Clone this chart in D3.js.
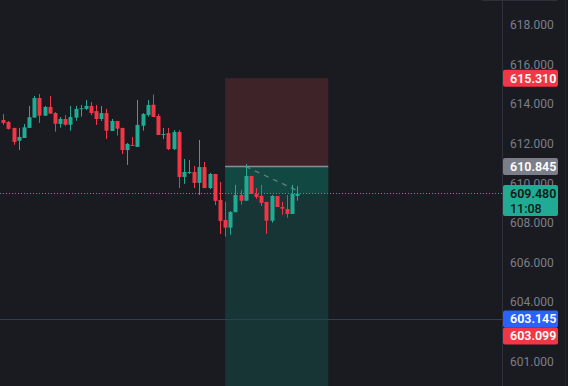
<!DOCTYPE html>
<html><head><meta charset="utf-8">
<script src="https://cdn.jsdelivr.net/npm/d3@7"></script>
<style>html,body{margin:0;padding:0;background:#1a1b20;}svg{display:block;}</style>
</head><body>
<svg id="c" width="568" height="386"></svg>
<script>
// ---- data ----
const bars = d3.range(58);
const open  = [613.20,613.10,612.80,612.15,612.29,612.80,613.32,614.31,613.42,613.86,613.55,613.00,613.25,612.96,613.32,613.76,613.76,613.91,613.65,613.25,613.55,612.64,613.15,612.80,611.68,611.94,611.84,612.91,613.45,613.97,613.40,612.44,612.54,611.73,612.59,610.32,610.52,610.57,610.02,610.82,609.76,610.47,609.16,608.15,607.76,608.54,609.41,609.12,610.37,609.46,609.36,609.06,608.11,609.36,608.80,608.70,608.45,609.36];
const high  = [613.50,613.15,612.80,612.80,613.00,613.91,614.41,614.51,613.91,614.41,613.60,613.35,613.44,613.91,613.91,613.96,614.21,614.11,613.96,613.91,613.76,613.25,613.15,612.80,612.04,612.34,614.21,613.55,614.21,614.48,613.50,612.80,612.80,612.69,612.69,611.23,611.18,610.88,612.19,611.08,610.52,610.47,610.07,609.06,608.60,609.92,609.66,610.98,610.37,609.76,609.92,609.06,609.41,609.36,609.06,609.41,609.92,609.86];
const low   = [612.95,612.72,611.94,611.68,612.29,612.80,613.32,613.05,613.40,613.52,612.61,612.81,612.91,612.66,613.16,613.37,613.70,613.44,612.95,613.15,612.24,612.64,612.41,611.48,610.93,611.90,611.84,612.66,613.37,613.35,612.44,612.24,611.68,611.68,609.76,609.97,610.47,609.76,609.41,609.76,609.71,608.90,607.44,607.30,607.40,608.54,608.92,609.12,609.46,609.21,608.85,607.45,608.01,608.80,608.41,608.26,608.45,609.12];
const close = [613.05,612.75,612.09,612.34,612.83,613.34,614.31,613.42,613.86,613.52,613.01,613.25,612.96,613.35,613.76,613.79,613.91,613.55,613.25,613.55,612.66,613.15,612.76,611.68,611.99,611.90,612.95,613.50,613.96,613.35,612.44,612.49,611.73,612.59,610.32,610.57,610.57,610.02,610.82,609.76,610.47,609.11,608.10,607.76,608.55,609.41,609.12,610.37,609.46,609.31,609.01,608.11,609.36,608.80,608.72,608.45,609.46,609.48];
const tickValues = [618,616,614,612,610,608,606,604,601];
const stopPrice = 615.310, entryPrice = 610.845, lastPrice = 609.480, lastTime = "11:08";
const alertPrice = 603.145, bidPrice = 603.099;
const posStart = 43, posEnd = 63, crossBar = 47;

// ---- layout ----
const W = 568, H = 386, plotRight = 502;
const svg = d3.select("#c");
const x = d3.scaleLinear().domain([0, 57]).range([3.3, 297.3]);
const y = d3.scaleLinear().domain([599.757, 619.263]).range([H, 0]);
const up = "#22ab94", down = "#f23645";

svg.append("rect").attr("width", W).attr("height", H).attr("fill", "#1a1b20");

// position tool
const pg = svg.append("g");
pg.append("rect").attr("x", x(posStart)).attr("width", x(posEnd) - x(posStart))
  .attr("y", y(stopPrice)).attr("height", y(entryPrice) - y(stopPrice)).attr("fill", "#3e2329");
pg.append("rect").attr("x", x(posStart)).attr("width", x(posEnd) - x(posStart))
  .attr("y", y(entryPrice)).attr("height", H - y(entryPrice)).attr("fill", "#173535");
pg.append("rect").attr("x", x(posStart)).attr("width", x(posEnd) - x(posStart))
  .attr("y", y(entryPrice)).attr("height", y(lastPrice) - y(entryPrice)).attr("fill", "#124842");
pg.append("line").attr("x1", x(posStart)).attr("x2", x(posEnd))
  .attr("y1", y(entryPrice)).attr("y2", y(entryPrice)).attr("stroke", "#8b8e98").attr("stroke-width", 1.5);

// alert line
svg.append("line").attr("x1", 0).attr("x2", plotRight).attr("y1", Math.round(y(alertPrice)) + 0.5).attr("y2", Math.round(y(alertPrice)) + 0.5)
  .attr("stroke", "#2b3d6a").attr("stroke-width", 1);

// current price dotted line
svg.append("line").attr("x1", 0).attr("x2", plotRight).attr("y1", Math.round(y(lastPrice)) - 0.5).attr("y2", Math.round(y(lastPrice)) - 0.5)
  .attr("stroke", up).attr("stroke-width", 1).attr("stroke-dasharray", "1,2");

// candles
const cg = svg.append("g");
cg.selectAll("line.w").data(bars).join("line").attr("class", "w")
  .attr("x1", i => Math.round(x(i)) + 0.5).attr("x2", i => Math.round(x(i)) + 0.5)
  .attr("y1", i => y(high[i])).attr("y2", i => y(low[i]))
  .attr("stroke", i => close[i] >= open[i] ? up : down).attr("stroke-width", 1);
cg.selectAll("rect.b").data(bars).join("rect").attr("class", "b")
  .attr("x", i => Math.round(x(i)) - 1.5).attr("width", 4)
  .attr("y", i => y(Math.max(open[i], close[i])))
  .attr("height", i => Math.max(1, Math.abs(y(open[i]) - y(close[i]))))
  .attr("fill", i => close[i] >= open[i] ? up : down);

// projection dashed line
svg.append("line").attr("x1", x(crossBar)).attr("y1", y(entryPrice)).attr("x2", x(57)).attr("y2", y(lastPrice) - 3)
  .attr("stroke", "#7d8a8c").attr("stroke-width", 1.3).attr("stroke-dasharray", "5,5").attr("opacity", 0.8);

// right price scale
svg.append("rect").attr("x", plotRight).attr("y", 0).attr("width", W - plotRight).attr("height", H).attr("fill", "#1a1b20");
svg.append("line").attr("x1", plotRight + 0.5).attr("x2", plotRight + 0.5).attr("y1", 0).attr("y2", H).attr("stroke", "#2e313b");
svg.append("line").attr("x1", 565.5).attr("x2", 565.5).attr("y1", 0).attr("y2", H).attr("stroke", "#24262d");
svg.append("line").attr("x1", 482).attr("x2", 557).attr("y1", 0.5).attr("y2", 0.5).attr("stroke", "#2e313b");

const axis = d3.axisRight(y).tickValues(tickValues).tickSize(0).tickPadding(8).tickFormat(d3.format(".3f"));
const ag = svg.append("g").attr("transform", `translate(${plotRight},0)`).call(axis);
ag.select(".domain").remove();
ag.selectAll("text").attr("fill", "#7c7f89").attr("font-size", 12).attr("font-family", "Roboto, 'Liberation Sans', sans-serif");

// price labels
function label(price, bg, fg, cy, h, extra) {
  const g = svg.append("g");
  g.append("rect").attr("x", plotRight + 1).attr("y", cy - h / 2).attr("width", 55).attr("height", h).attr("rx", 2).attr("fill", bg);
  g.append("text").attr("x", plotRight + 8).attr("y", extra ? cy - 7 : cy).attr("dy", "0.36em")
    .attr("fill", fg).attr("font-size", 12.5).attr("font-weight", 600)
    .attr("font-family", "Roboto, 'Liberation Sans', sans-serif").text(d3.format(".3f")(price));
  if (extra) g.append("text").attr("x", plotRight + 8).attr("y", cy + 7.5).attr("dy", "0.36em")
    .attr("fill", fg).attr("font-size", 12.5).attr("font-weight", 500)
    .attr("font-family", "Roboto, 'Liberation Sans', sans-serif").text(extra);
}
label(stopPrice, down, "#ffffff", y(stopPrice), 17);
label(entryPrice, "#7b7e89", "#ffffff", y(entryPrice), 17);
label(lastPrice, up, "#0d1a17", y(lastPrice) + 7, 31, lastTime);
label(alertPrice, "#2962ff", "#ffffff", y(alertPrice), 17);
label(bidPrice, down, "#ffffff", y(alertPrice) + 17, 17);
</script>
</body></html>
